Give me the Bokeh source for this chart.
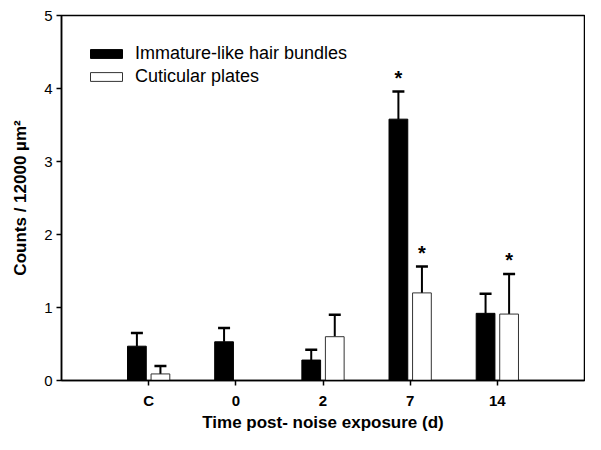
from bokeh.plotting import figure
from bokeh.models import (ColumnDataSource, Range1d, FixedTicker, Whisker, TeeHead,
                          Legend, LegendItem)
from bokeh.transform import dodge
from bokeh.core.properties import value
from bokeh.embed import file_html
from bokeh.resources import INLINE

categories = ["C", "0", "2", "7", "14"]
positions = [1, 2, 3, 4, 5]
immature = [0.47, 0.53, 0.28, 3.58, 0.92]
immature_err = [0.65, 0.72, 0.42, 3.96, 1.19]
cuticular = [0.09, 0.0, 0.60, 1.20, 0.91]
cuticular_err = [0.20, None, 0.90, 1.56, 1.46]
star_immature = [False, False, False, True, False]
star_cuticular = [False, False, False, True, True]

FONT = "Liberation Sans"

p = figure(width=585, height=434, output_backend="svg", toolbar_location=None,
           x_range=Range1d(0, 6), y_range=Range1d(0, 5),
           min_border_left=61, min_border_right=1, min_border_top=15, min_border_bottom=48)
p.xgrid.visible = False
p.ygrid.visible = False
p.outline_line_color = "black"
p.outline_line_width = 1.5
p.background_fill_color = "white"
p.border_fill_color = "white"

src_a = ColumnDataSource(dict(x=positions, top=immature))
src_b = ColumnDataSource(dict(x=positions, top=cuticular))
bw = 0.215
off = 0.135
ra = p.vbar(x=dodge("x", -off, range=p.x_range), top="top", width=bw, source=src_a,
            fill_color="black", line_color="black", line_width=1)
rb = p.vbar(x=dodge("x", off, range=p.x_range), top="top", width=bw, source=src_b,
            fill_color="white", line_color="#333333", line_width=1)

ea_x = [x for x, e in zip(positions, immature_err) if e is not None]
ea_l = [v for v, e in zip(immature, immature_err) if e is not None]
ea_u = [e for e in immature_err if e is not None]
eb_x = [x for x, e in zip(positions, cuticular_err) if e is not None]
eb_l = [v for v, e in zip(cuticular, cuticular_err) if e is not None]
eb_u = [e for e in cuticular_err if e is not None]

wa = ColumnDataSource(dict(x=ea_x, lower=ea_l, upper=ea_u))
wb = ColumnDataSource(dict(x=eb_x, lower=eb_l, upper=eb_u))
for s, o in ((wa, -off), (wb, off)):
    w = Whisker(base=dodge("x", o, range=p.x_range), lower="lower", upper="upper", source=s,
                line_color="black", line_width=2,
                upper_head=TeeHead(size=12, line_color="black", line_width=2.5),
                lower_head=None)
    p.add_layout(w)

sx = [x - off for x, s in zip(positions, star_immature) if s] + \
     [x + off for x, s in zip(positions, star_cuticular) if s]
sy = [e + 0.04 for e, s in zip(immature_err, star_immature) if s] + \
     [e + 0.04 for e, s in zip(cuticular_err, star_cuticular) if s]
p.text(x=sx, y=sy, text=["*"] * len(sx), text_font=value(FONT), text_font_size="20px",
       text_font_style="bold", text_align="center", text_baseline="bottom", text_color="black")

p.xaxis.ticker = FixedTicker(ticks=positions)
p.xaxis.major_label_overrides = {x: c for x, c in zip(positions, categories)}
p.yaxis.ticker = FixedTicker(ticks=[0, 1, 2, 3, 4, 5])
p.xaxis.minor_tick_line_color = None
p.yaxis.minor_tick_line_color = None
for ax in (p.xaxis[0], p.yaxis[0]):
    ax.axis_line_color = "black"
    ax.axis_line_width = 1.5
    ax.major_tick_line_color = "black"
    ax.major_tick_line_width = 1.5
    ax.major_tick_out = 5
    ax.major_tick_in = 0
    ax.major_label_text_font = FONT
    ax.major_label_text_color = "black"
    ax.axis_label_text_font = FONT
    ax.axis_label_text_font_style = "bold"
    ax.axis_label_text_color = "black"
    ax.axis_label_text_font_size = "17px"

p.xaxis.major_label_text_font_style = "bold"
p.xaxis.major_label_text_font_size = "15px"
p.xaxis.major_label_standoff = 6
p.xaxis.axis_label = "Time post- noise exposure (d)"
p.xaxis.axis_label_standoff = 1
p.yaxis.major_label_text_font_size = "15px"
p.yaxis.major_label_standoff = 4
p.yaxis.axis_label = "Counts / 12000 µm²"
p.yaxis.axis_label_standoff = 11

legend = Legend(items=[LegendItem(label="Immature-like hair bundles", renderers=[ra]),
                       LegendItem(label="Cuticular plates", renderers=[rb])],
                location=(25, 293), orientation="vertical")
legend.border_line_color = None
legend.background_fill_alpha = 0
legend.padding = 0
legend.margin = 0
legend.spacing = 2
legend.glyph_width = 40
legend.glyph_height = 11
legend.label_height = 21
legend.label_standoff = 9
legend.label_text_font = FONT
legend.label_text_font_size = "18px"
legend.label_text_color = "black"
p.add_layout(legend)

open("out.html", "w").write(file_html(p, INLINE))
